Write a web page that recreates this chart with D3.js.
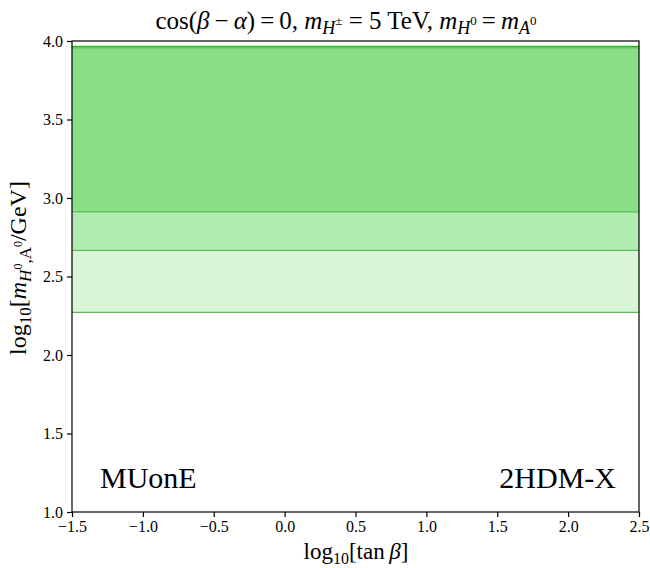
<!doctype html>
<html>
  <head>
    <meta charset="utf-8">
    <title>MUonE 2HDM-X</title>
    <style>
      body { margin: 0; background: #fff; }
      text { font-family: 'Liberation Serif', 'DejaVu Serif', serif; fill: #000; }
    </style>
  </head>
  <body>
    <svg width='650' height='568'></svg>

  <script src='https://d3js.org/d3.v7.min.js'></script>
  <script>
// Excluded bands in log10(mass/GeV), bottom edge and top edge of each fill.
var bandLow = [2.272, 2.667, 2.911, 3.952];
var bandHigh = [3.966, 3.966, 3.966, 3.968];
var bandFill = ['#d8f5d6', '#b0ebaf', '#8bdf88', '#5cc95a'];
var xTicks = [-1.5, -1.0, -0.5, 0.0, 0.5, 1.0, 1.5, 2.0, 2.5];
var yTicks = [1.0, 1.5, 2.0, 2.5, 3.0, 3.5, 4.0];

var svg = d3.select('svg'),
  padL = 72, padR = 639, padT = 41, padB = 512;

var x = d3.scaleLinear().domain([-1.5, 2.5]).range([padL, padR]);
var y = d3.scaleLinear().domain([1.0, 4.0]).range([padB, padT]);

// bands, drawn from widest to narrowest
bandLow.forEach(function(lo, i) {
  svg.append('rect')
    .attr('x', x(-1.5))
    .attr('width', x(2.5) - x(-1.5))
    .attr('y', y(bandHigh[i]))
    .attr('height', y(lo) - y(bandHigh[i]))
    .attr('fill', bandFill[i]);
  if (i < 3) {
    svg.append('line')
      .attr('x1', x(-1.5)).attr('x2', x(2.5))
      .attr('y1', y(lo)).attr('y2', y(lo))
      .attr('stroke', '#55c153').attr('stroke-width', 1.2);
  }
});
svg.append('line')
  .attr('x1', x(-1.5)).attr('x2', x(2.5))
  .attr('y1', y(3.966)).attr('y2', y(3.966))
  .attr('stroke', '#3fae3d').attr('stroke-width', 1.2);

// axes
var xAxis = d3.axisBottom(x).tickValues(xTicks)
  .tickFormat(function(d) { return d3.format('.1f')(d).replace('-', '\u2212'); })
  .tickSizeInner(5).tickSizeOuter(0).tickPadding(4);
var yAxis = d3.axisLeft(y).tickValues(yTicks)
  .tickFormat(d3.format('.1f'))
  .tickSizeInner(5).tickSizeOuter(0).tickPadding(4);

var gx = svg.append('g').attr('transform', 'translate(0,' + padB + ')').call(xAxis);
var gy = svg.append('g').attr('transform', 'translate(' + padL + ',0)').call(yAxis);
[gx, gy].forEach(function(g) {
  g.select('.domain').remove();
  g.selectAll('text').style('font-family', "'Liberation Serif', serif").style('font-size', '16px').attr('fill', '#000');
  g.selectAll('line').attr('stroke', '#000').attr('stroke-width', 1.2);
});

svg.append('rect')
  .attr('x', padL).attr('y', padT)
  .attr('width', padR - padL).attr('height', padB - padT)
  .attr('fill', 'none').attr('stroke', '#000').attr('stroke-width', 1.2);

// title
var title = svg.append('text')
  .attr('x', 346).attr('y', 29)
  .attr('text-anchor', 'middle')
  .style('font-size', '25px');
title.append('tspan').text('cos(');
title.append('tspan').attr('font-style', 'italic').text('\u03b2');
title.append('tspan').text('\u2009\u2212\u2009');
title.append('tspan').attr('font-style', 'italic').text('\u03b1');
title.append('tspan').text(')\u2009=\u20090, ');
title.append('tspan').attr('font-style', 'italic').text('m');
title.append('tspan').attr('font-style', 'italic').attr('dy', 5).style('font-size', '18px').text('H');
title.append('tspan').attr('dy', -9).style('font-size', '13px').text('\u00b1');
title.append('tspan').attr('dy', 4).text(' =  5 TeV, ');
title.append('tspan').attr('font-style', 'italic').text('m');
title.append('tspan').attr('font-style', 'italic').attr('dy', 5).style('font-size', '18px').text('H');
title.append('tspan').attr('dy', -9).style('font-size', '13px').text('0');
title.append('tspan').attr('dy', 4).text('\u2009=\u2009');
title.append('tspan').attr('font-style', 'italic').text('m');
title.append('tspan').attr('font-style', 'italic').attr('dy', 5).style('font-size', '18px').text('A');
title.append('tspan').attr('dy', -9).style('font-size', '13px').text('0');

// x label
var xl = svg.append('text')
  .attr('x', 356).attr('y', 559)
  .attr('text-anchor', 'middle')
  .style('font-size', '23px');
xl.append('tspan').text('log');
xl.append('tspan').attr('dy', 5).style('font-size', '16px').text('10');
xl.append('tspan').attr('dy', -5).text('[tan\u2009');
xl.append('tspan').attr('font-style', 'italic').text('\u03b2');
xl.append('tspan').text(']');

// y label
var yl = svg.append('text')
  .attr('transform', 'translate(26,' + 268 + ') rotate(-90)')
  .attr('text-anchor', 'middle')
  .style('font-size', '24px');
yl.append('tspan').text('log');
yl.append('tspan').attr('dy', 5).style('font-size', '17px').text('10');
yl.append('tspan').attr('dy', -5).text('[');
yl.append('tspan').attr('font-style', 'italic').text('m');
yl.append('tspan').attr('font-style', 'italic').attr('dy', 5).style('font-size', '17px').text('H');
yl.append('tspan').attr('dy', -9).style('font-size', '12px').text('0');
yl.append('tspan').attr('dy', 9).style('font-size', '17px').text(',A');
yl.append('tspan').attr('dy', -9).style('font-size', '12px').text('0');
yl.append('tspan').attr('dy', 4).text('/GeV]');

// corner labels
svg.append('text').attr('x', 100).attr('y', 488)
  .style('font-size', '30px').text('MUonE');
svg.append('text').attr('x', 616).attr('y', 488)
  .attr('text-anchor', 'end')
  .style('font-size', '30px').text('2HDM-X');
  </script>
  </body>
</html>
